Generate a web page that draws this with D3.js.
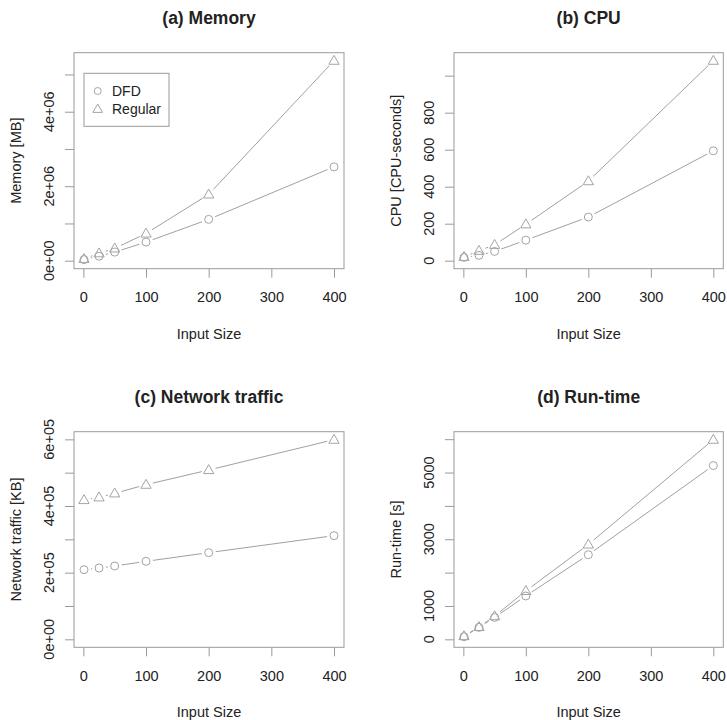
<!DOCTYPE html>
<html>
<head>
<meta charset="utf-8">
<script src="https://cdn.jsdelivr.net/npm/d3@7"></script>
<style>
  body { margin: 0; background: #fff; }
  svg text { font-family: "Liberation Sans", Arial, sans-serif; fill: #222; }
</style>
</head>
<body>
<svg id="chart" width="727" height="720"></svg>
<script>
// input sizes shared by all panels
const inputSize = [1, 25, 50, 100, 200, 400]

const memoryDFD = [0.03e6, 0.12e6, 0.23e6, 0.5e6, 1.11e6, 2.52e6]
const memoryRegular = [0.05e6, 0.2e6, 0.33e6, 0.73e6, 1.78e6, 5.37e6]
const cpuDFD = [18, 29, 50, 111, 236, 594]
const cpuRegular = [21, 54, 86, 197, 430, 1081]
const netDFD = [2.09e5, 2.14e5, 2.2e5, 2.34e5, 2.6e5, 3.11e5]
const netRegular = [4.18e5, 4.26e5, 4.38e5, 4.64e5, 5.08e5, 5.99e5]
const runDFD = [78, 358, 656, 1300, 2536, 5209]
const runRegular = [98, 370, 695, 1450, 2843, 5985]

const xTicks = [0, 100, 200, 300, 400]
const seriesNames = ['DFD', 'Regular']

const panels = [
  { title: '(a) Memory', ylab: 'Memory [MB]', dfd: memoryDFD, reg: memoryRegular,
    ticks: [0, 1e6, 2e6, 3e6, 4e6, 5e6], labelled: [0, 2e6, 4e6], fmt: 'sci', legend: true,
    box: { x: 74, y: 52.7, w: 270, h: 216 } },
  { title: '(b) CPU', ylab: 'CPU [CPU-seconds]', dfd: cpuDFD, reg: cpuRegular,
    ticks: [0, 200, 400, 600, 800, 1000], labelled: [0, 200, 400, 600, 800], fmt: 'int',
    box: { x: 454, y: 52.7, w: 269.3, h: 216 } },
  { title: '(c) Network traffic', ylab: 'Network traffic [KB]', dfd: netDFD, reg: netRegular,
    ticks: [0, 1e5, 2e5, 3e5, 4e5, 5e5, 6e5], labelled: [0, 2e5, 4e5, 6e5], fmt: 'sci',
    box: { x: 74, y: 431.7, w: 270, h: 215.6 } },
  { title: '(d) Run-time', ylab: 'Run-time [s]', dfd: runDFD, reg: runRegular,
    ticks: [0, 1000, 2000, 3000, 4000, 5000, 6000], labelled: [0, 1000, 3000, 5000], fmt: 'int',
    box: { x: 454, y: 431.7, w: 269.3, h: 215.6 } }
]

const boxColor = '#9a9a9a'
const lineColor = '#a0a0a0'
const pointColor = '#a4a4a4'
const fs = 14.5

// R style number labels, e.g. 4e+06
const sci = v => {
  if (v === 0) return '0e+00'
  const e = Math.floor(Math.log10(v))
  const m = Math.round(v / Math.pow(10, e))
  return `${m}e+${String(e).padStart(2, '0')}`
}

const svg = d3.select('#chart')

// circle / triangle like R pch 1 and 2
const triangle = d3.symbol().type(d3.symbolTriangle).size(46)

function drawPoints (g, pts, shape) {
  if (shape === 'circle') {
    g.selectAll('circle.pt').data(pts).enter().append('circle')
      .attr('class', 'pt')
      .attr('cx', d => d[0]).attr('cy', d => d[1]).attr('r', 4)
      .attr('fill', 'none').attr('stroke', pointColor).attr('stroke-width', 1)
  } else {
    g.selectAll('path.pt').data(pts).enter().append('path')
      .attr('class', 'pt')
      .attr('d', triangle)
      .attr('transform', d => `translate(${d[0]},${d[1] + 0.6})`)
      .attr('fill', 'none').attr('stroke', pointColor).attr('stroke-width', 1)
  }
}

// type = "b": segments with a gap around each point
function drawGappedLine (g, pts) {
  const gap = 7
  for (let i = 0; i < pts.length - 1; i++) {
    const [x1, y1] = pts[i]
    const [x2, y2] = pts[i + 1]
    const len = Math.hypot(x2 - x1, y2 - y1)
    if (len <= gap * 2) continue
    const ux = (x2 - x1) / len
    const uy = (y2 - y1) / len
    g.append('line')
      .attr('x1', x1 + ux * gap).attr('y1', y1 + uy * gap)
      .attr('x2', x2 - ux * gap).attr('y2', y2 - uy * gap)
      .attr('stroke', lineColor).attr('stroke-width', 1)
  }
}

panels.forEach(p => {
  const b = p.box
  const xr = d3.extent(inputSize)
  const xpad = (xr[1] - xr[0]) * 0.04
  const x = d3.scaleLinear()
    .domain([xr[0] - xpad, xr[1] + xpad])
    .range([b.x, b.x + b.w])

  const ymax = d3.max(p.dfd.concat(p.reg))
  const y = d3.scaleLinear()
    .domain([-ymax * 0.04, ymax * 1.04])
    .range([b.y + b.h, b.y])

  const g = svg.append('g')

  // plot box
  g.append('rect')
    .attr('x', b.x).attr('y', b.y).attr('width', b.w).attr('height', b.h)
    .attr('fill', 'none').attr('stroke', boxColor).attr('stroke-width', 1)

  // x axis
  const xAxis = g.append('g')
    .attr('transform', `translate(0,${b.y + b.h})`)
    .call(d3.axisBottom(x).tickValues(xTicks).tickSize(9).tickPadding(14).tickFormat(d3.format('d')))
  xAxis.select('.domain').remove()
  xAxis.selectAll('line').attr('stroke', boxColor)
  xAxis.selectAll('text').attr('font-size', fs).attr('fill', '#222')

  // y axis, labels rotated like R's las = 0
  const yAxis = g.append('g')
    .attr('transform', `translate(${b.x},0)`)
    .call(d3.axisLeft(y).tickValues(p.ticks).tickSize(9).tickFormat(''))
  yAxis.select('.domain').remove()
  yAxis.selectAll('line').attr('stroke', boxColor)

  g.selectAll('text.ylabel').data(p.labelled).enter().append('text')
    .attr('class', 'ylabel')
    .attr('transform', d => `translate(${b.x - 20},${y(d)}) rotate(-90)`)
    .attr('text-anchor', 'middle')
    .attr('font-size', fs)
    .text(d => p.fmt === 'sci' ? sci(d) : d)

  // titles
  g.append('text')
    .attr('x', b.x + b.w / 2).attr('y', b.y - 28.5)
    .attr('text-anchor', 'middle')
    .attr('font-size', 17.5).attr('font-weight', 'bold').attr('fill', '#111')
    .text(p.title)

  g.append('text')
    .attr('x', b.x + b.w / 2).attr('y', b.y + b.h + 70)
    .attr('text-anchor', 'middle')
    .attr('font-size', fs)
    .text('Input Size')

  g.append('text')
    .attr('transform', `translate(${b.x - 53},${b.y + b.h / 2}) rotate(-90)`)
    .attr('text-anchor', 'middle')
    .attr('font-size', fs)
    .text(p.ylab)

  // series
  const ptsDFD = inputSize.map((s, i) => [x(s), y(p.dfd[i])])
  const ptsReg = inputSize.map((s, i) => [x(s), y(p.reg[i])])
  drawGappedLine(g, ptsDFD)
  drawGappedLine(g, ptsReg)
  drawPoints(g.append('g'), ptsDFD, 'circle')
  drawPoints(g.append('g'), ptsReg, 'triangle')

  if (p.legend) {
    const lg = g.append('g').attr('transform', `translate(${b.x + 10},${b.y + 20.6})`)
    lg.append('rect')
      .attr('width', 85).attr('height', 53)
      .attr('fill', '#fff').attr('stroke', boxColor).attr('stroke-width', 1)
    seriesNames.forEach((name, i) => {
      const cy = 17.7 + i * 18
      if (i === 0) {
        lg.append('circle').attr('cx', 13.7).attr('cy', cy).attr('r', 3.5)
          .attr('fill', 'none').attr('stroke', pointColor)
      } else {
        lg.append('path').attr('d', d3.symbol().type(d3.symbolTriangle).size(40))
          .attr('transform', `translate(13.7,${cy + 0.6})`)
          .attr('fill', 'none').attr('stroke', pointColor)
      }
      lg.append('text')
        .attr('x', 28).attr('y', cy).attr('dy', '0.35em')
        .attr('font-size', 14)
        .text(name)
    })
  }
})
</script>
</body>
</html>
